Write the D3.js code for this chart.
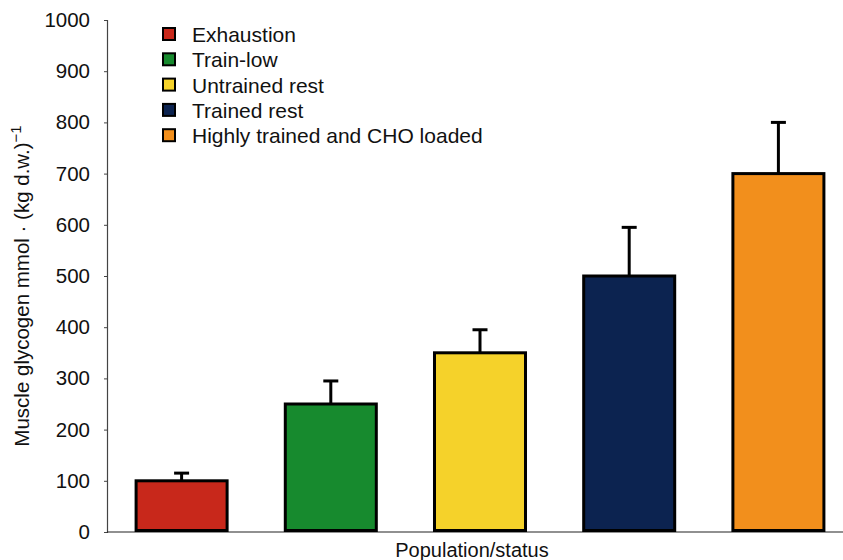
<!DOCTYPE html>
<html>
<head>
<meta charset="utf-8">
<script src="https://cdn.jsdelivr.net/npm/d3@7"></script>
<style>
  body { margin: 0; background: #fff; }
  text { font-family: "Liberation Sans", Arial, sans-serif; }
</style>
</head>
<body>
<div id="chart"></div>
<script>
const groups = ["Exhaustion", "Train-low", "Untrained rest", "Trained rest", "Highly trained and CHO loaded"];
const glycogen = [100, 250, 350, 500, 700];
const errors = [15, 45, 45, 95, 100];
const colors = ["#c8281b", "#178a2e", "#f5d22a", "#0c2350", "#f28f1c"];
const yTicks = [0, 100, 200, 300, 400, 500, 600, 700, 800, 900, 1000];

const width = 843, height = 560;
const margin = {top: 20, right: -10, bottom: 28, left: 107};

const svg = d3.select("#chart")
  .append("svg")
  .attr("width", width)
  .attr("height", height);

const x = d3.scaleBand()
  .domain(groups)
  .range([margin.left, width - margin.right])
  .paddingInner(0.39)
  .paddingOuter(0.195);

const y = d3.scaleLinear()
  .domain([0, 1000])
  .range([height - margin.bottom, margin.top]);

// y axis
const yAxis = svg.append("g")
  .attr("transform", `translate(${margin.left},0)`)
  .call(d3.axisLeft(y).tickValues(yTicks).tickFormat(d3.format("d")).tickSize(3).tickPadding(14));
yAxis.select(".domain").attr("stroke", "#444").attr("stroke-width", 1.2);
yAxis.selectAll(".tick line").attr("stroke", "#444");
yAxis.selectAll(".tick text")
  .attr("font-size", 20.5)
  .attr("fill", "#111")
  .style("font-family", "'Liberation Sans', Arial, sans-serif");

// x baseline
svg.append("line")
  .attr("x1", margin.left)
  .attr("x2", width)
  .attr("y1", y(0))
  .attr("y2", y(0))
  .attr("stroke", "#222")
  .attr("stroke-width", 1.2);

const data = groups.map((g, i) => ({g, v: glycogen[i], e: errors[i], c: colors[i]}));

// error bars
const eb = svg.append("g");
eb.selectAll(".stem")
  .data(data)
  .join("line")
  .attr("x1", d => x(d.g) + x.bandwidth() / 2)
  .attr("x2", d => x(d.g) + x.bandwidth() / 2)
  .attr("y1", d => y(d.v))
  .attr("y2", d => y(d.v + d.e))
  .attr("stroke", "#000")
  .attr("stroke-width", 3);
eb.selectAll(".cap")
  .data(data)
  .join("line")
  .attr("x1", d => x(d.g) + x.bandwidth() / 2 - 7.5)
  .attr("x2", d => x(d.g) + x.bandwidth() / 2 + 7.5)
  .attr("y1", d => y(d.v + d.e))
  .attr("y2", d => y(d.v + d.e))
  .attr("stroke", "#000")
  .attr("stroke-width", 3);

// bars
svg.append("g")
  .selectAll("rect")
  .data(data)
  .join("rect")
  .attr("x", d => x(d.g))
  .attr("y", d => y(d.v))
  .attr("width", x.bandwidth())
  .attr("height", d => y(0) - y(d.v) - 1.5)
  .attr("fill", d => d.c)
  .attr("stroke", "#000")
  .attr("stroke-width", 3);

// legend
const legend = svg.append("g")
  .attr("transform", "translate(163,28)");
const item = legend.selectAll("g")
  .data(data)
  .join("g")
  .attr("transform", (d, i) => `translate(0,${i * 25.3})`);
item.append("rect")
  .attr("width", 12)
  .attr("height", 12)
  .attr("fill", d => d.c)
  .attr("stroke", "#000")
  .attr("stroke-width", 2);
item.append("text")
  .attr("x", 29)
  .attr("y", 14)
  .attr("font-size", 21)
  .attr("fill", "#111")
  .text(d => d.g);

// axis titles
svg.append("text")
  .attr("x", 472)
  .attr("y", 557)
  .attr("text-anchor", "middle")
  .attr("font-size", 20)
  .attr("fill", "#111")
  .text("Population/status");

const yl = svg.append("text")
  .attr("transform", `translate(29,${(y(0) + y(1000)) / 2 + 10}) rotate(-90)`)
  .attr("text-anchor", "middle")
  .attr("font-size", 20.5)
  .attr("fill", "#111");
yl.append("tspan").text("Muscle glycogen mmol · (kg d.w.)");
yl.append("tspan").attr("dy", -8).attr("font-size", 15).text("−1");
</script>
</body>
</html>
